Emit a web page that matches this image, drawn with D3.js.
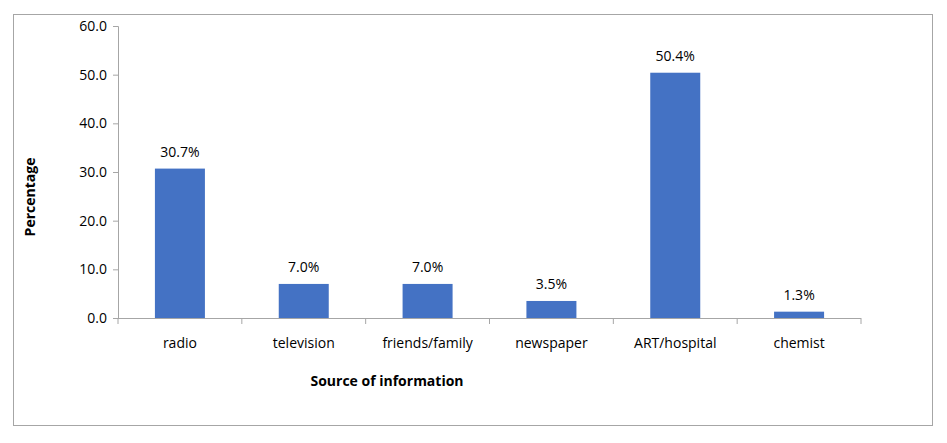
<!DOCTYPE html>
<html>
<head>
<meta charset="utf-8">
<script src="https://cdn.jsdelivr.net/npm/d3@7"></script>
<style>
  body { margin: 0; background: #fff; }
  text { font-family: "Open Sans", "Liberation Sans", sans-serif; fill: #000; }
</style>
</head>
<body>
<svg id="chart" width="947" height="443"></svg>
<script>
// data
var categories = ["radio", "television", "friends/family", "newspaper", "ART/hospital", "chemist"];
var percentages = [30.7, 7.0, 7.0, 3.5, 50.4, 1.3];
var yTicks = [0, 10, 20, 30, 40, 50, 60];

var svg = d3.select("#chart");

// outer frame
svg.append("rect")
    .attr("x", 13.5).attr("y", 14.5)
    .attr("width", 919).attr("height", 411)
    .attr("fill", "none").attr("stroke", "#a6a6a6");

var plotLeft = 118, plotRight = 861, plotTop = 26, plotBottom = 318;

var x = d3.scaleBand().domain(categories).range([plotLeft, plotRight]);
var y = d3.scaleLinear().domain([0, 60]).range([plotBottom, plotTop]);

var barWidth = 50;

// bars
svg.selectAll(".bar")
    .data(percentages)
    .enter().append("rect")
    .attr("x", (d, i) => x(categories[i]) + x.bandwidth() / 2 - barWidth / 2)
    .attr("y", d => y(d))
    .attr("width", barWidth)
    .attr("height", d => plotBottom - y(d))
    .attr("fill", "#4472c4");

// value labels
svg.selectAll(".lbl")
    .data(percentages)
    .enter().append("text")
    .attr("x", (d, i) => x(categories[i]) + x.bandwidth() / 2)
    .attr("y", d => y(d) - 12)
    .attr("text-anchor", "middle")
    .style("font-size", "14px")
    .text(d => d.toFixed(1) + "%");

// y axis
var yAxis = svg.append("g")
    .attr("transform", "translate(" + plotLeft + ",0)")
    .call(d3.axisLeft(y).tickValues(yTicks).tickFormat(d3.format(".1f")).tickSizeOuter(0).tickSize(5).tickPadding(6));
yAxis.selectAll("text").style("font-size", "14px");
yAxis.selectAll("line, path").attr("stroke", "#a6a6a6");

// x axis: line plus ticks at band boundaries
var xg = svg.append("g");
xg.append("line")
    .attr("x1", plotLeft).attr("x2", plotRight)
    .attr("y1", plotBottom + 0.5).attr("y2", plotBottom + 0.5)
    .attr("stroke", "#a6a6a6");
var bounds = categories.map(c => x(c)).concat([plotRight]);
xg.selectAll(".xt")
    .data(bounds)
    .enter().append("line")
    .attr("x1", d => d).attr("x2", d => d)
    .attr("y1", plotBottom).attr("y2", plotBottom + 6)
    .attr("stroke", "#a6a6a6");
xg.selectAll(".xl")
    .data(categories)
    .enter().append("text")
    .attr("x", d => x(d) + x.bandwidth() / 2)
    .attr("y", 348)
    .attr("text-anchor", "middle")
    .style("font-size", "14px")
    .text(d => d);

// axis titles
svg.append("text")
    .attr("x", 387).attr("y", 386)
    .attr("text-anchor", "middle")
    .style("font-size", "14px").style("font-weight", "bold")
    .text("Source of information");

svg.append("text")
    .attr("transform", "translate(35,197) rotate(-90)")
    .attr("text-anchor", "middle")
    .style("font-size", "14px").style("font-weight", "bold")
    .text("Percentage");
</script>
</body>
</html>
